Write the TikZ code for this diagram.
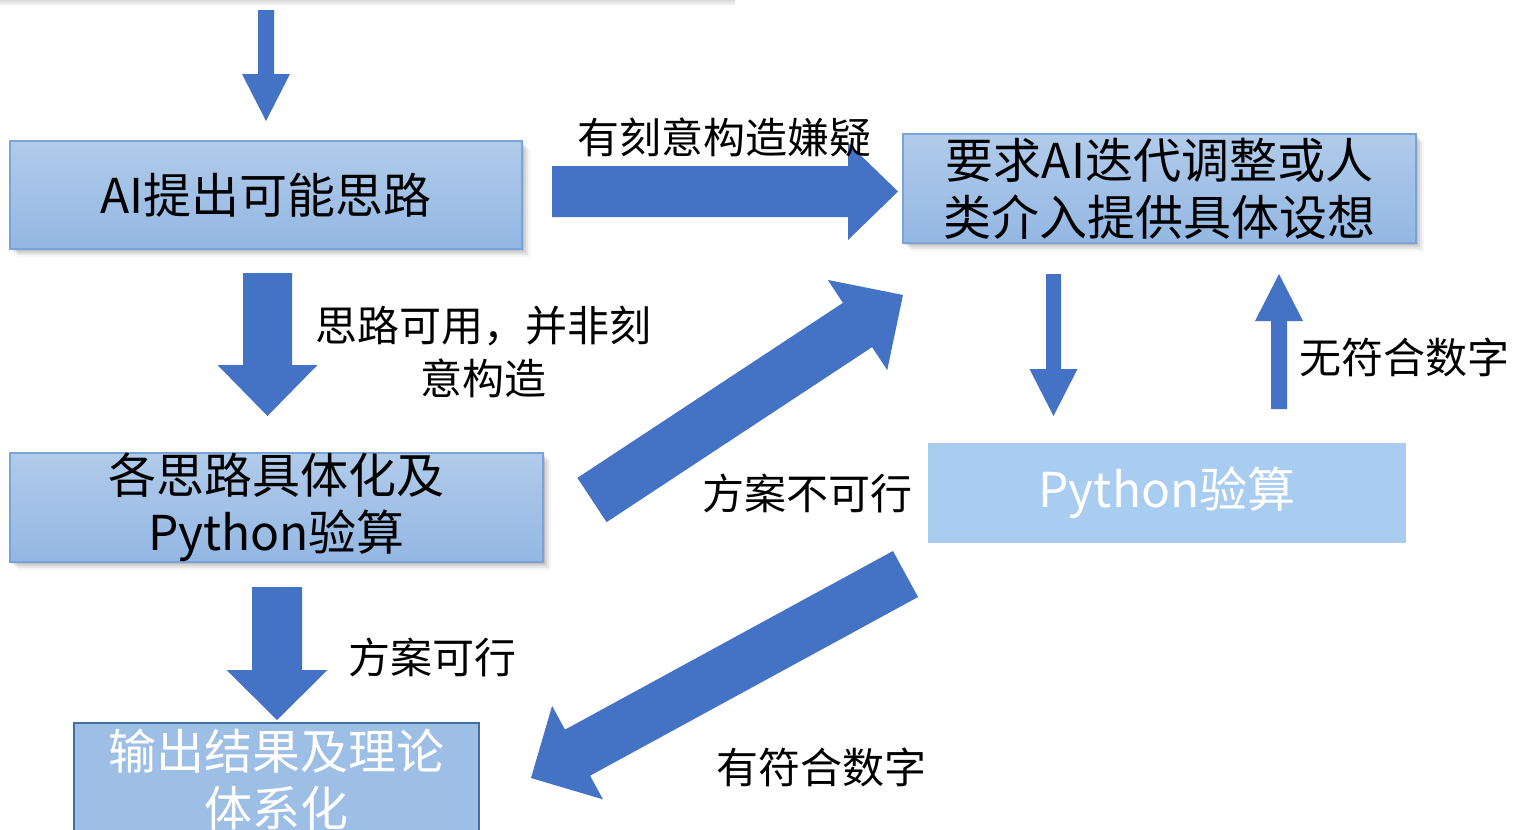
\documentclass[tikz,border=0pt]{standalone}
\usepackage{fontspec}
\setmainfont{Noto Sans CJK SC}
\usetikzlibrary{calc,shadows}
\definecolor{abl}{HTML}{4472C4}
\definecolor{boxtop}{HTML}{B1CBEA}
\definecolor{boxbot}{HTML}{93B7E3}
\definecolor{boxedge}{HTML}{7BA3D8}
\definecolor{outfill}{HTML}{9DBFE5}
\definecolor{outedge}{HTML}{44709E}
\definecolor{pyfill}{HTML}{A9CCF1}
\newcommand\myblockarrow[5]{%
  \path ($(#2)!#5!(#1)$) coordinate (hb);
  \fill[abl] ($(#1)!#3!90:(#2)$) -- ($(hb)!#3!90:(#2)$) -- ($(hb)!#4!90:(#2)$)
    -- (#2) -- ($(hb)!#4!-90:(#2)$) -- ($(hb)!#3!-90:(#2)$) -- ($(#1)!#3!-90:(#2)$) -- cycle;}
\begin{document}
\begin{tikzpicture}[x=1pt,y=-1pt,
  boxfont/.style={font=\fontsize{48}{57}\selectfont},
  lblfont/.style={font=\fontsize{42}{53}\selectfont, inner sep=0pt, align=center},
  softshadow/.style={drop shadow={shadow xshift=2pt,shadow yshift=-2pt,opacity=0.10,fill=black},
                     drop shadow={shadow xshift=4pt,shadow yshift=-4pt,opacity=0.08,fill=black},
                     drop shadow={shadow xshift=6pt,shadow yshift=-6pt,opacity=0.06,fill=black},
                     drop shadow={shadow xshift=8pt,shadow yshift=-8pt,opacity=0.04,fill=black}},
  gradbox/.style={rectangle, inner sep=0pt, top color=boxtop, bottom color=boxbot,
                  draw=boxedge, line width=1.5pt, softshadow, boxfont, align=center},
  outbox/.style={rectangle, inner sep=0pt, fill=outfill, draw=outedge, line width=2pt,
                 boxfont, align=center, text=white},
  pybox/.style={rectangle, inner sep=0pt, fill=pyfill, boxfont, text=white}]
\useasboundingbox (0,0) rectangle (1516,830);
\fill[white] (0,0) rectangle (1516,830);
% faint shadow of a box above the picture
\shade[top color=black!14, bottom color=white] (0,0) rectangle (735,6);

% boxes
\node[gradbox, minimum width=512pt, minimum height=108pt] (ai) at (266,195) {AI提出可能思路};
\node[gradbox, minimum width=533pt, minimum height=109pt] (spec) at (276.5,507.5) {各思路具体化及\\Python验算};
\node[outbox, minimum width=405pt, minimum height=113pt] (out) at (276.5,779.5) {输出结果及理论\\体系化};
\node[gradbox, minimum width=513pt, minimum height=109pt] (req) at (1159.5,188.5) {要求AI迭代调整或人\\类介入提供具体设想};
\node[pybox, minimum width=478pt, minimum height=100pt] (py) at (1167,493) {Python验算};

% arrow end points
\coordinate (t0) at (266,10);      \coordinate (t1) at (266,121);
\coordinate (a0) at (267.5,273);   \coordinate (a1) at (267.5,416);
\coordinate (b0) at (277,587);     \coordinate (b1) at (277,720);
\coordinate (h0) at (552,191.5);   \coordinate (h1) at (898,191.5);
\coordinate (u0) at (592,500);     \coordinate (u1) at (903,295);
\coordinate (d0) at (905.5,574);   \coordinate (d1) at (531,778);
\coordinate (r0) at (1053.5,274);  \coordinate (r1) at (1053.5,416);
\coordinate (p0) at (1279,409);    \coordinate (p1) at (1279,274);

\myblockarrow{t0}{t1}{8pt}{24pt}{47pt}
\myblockarrow{a0}{a1}{24.5pt}{50pt}{51pt}
\myblockarrow{b0}{b1}{25pt}{50.5pt}{50pt}
\myblockarrow{h0}{h1}{25.5pt}{48.5pt}{50pt}
\myblockarrow{u0}{u1}{26.5pt}{54pt}{54.5pt}
\myblockarrow{d0}{d1}{26.2pt}{53.2pt}{53pt}
\myblockarrow{r0}{r1}{7.5pt}{24pt}{47pt}
\myblockarrow{p0}{p1}{8pt}{24pt}{47pt}

% labels
\node[lblfont] (l1) at (724,137) {有刻意构造嫌疑};
\node[lblfont] (l2) at (483,352) {思路可用，并非刻\\意构造};
\node[lblfont] (l3) at (432,657) {方案可行};
\node[lblfont] (l4) at (807,493) {方案不可行};
\node[lblfont] (l5) at (821,767) {有符合数字};
\node[lblfont] (l6) at (1404,357) {无符合数字};
\end{tikzpicture}
\end{document}
